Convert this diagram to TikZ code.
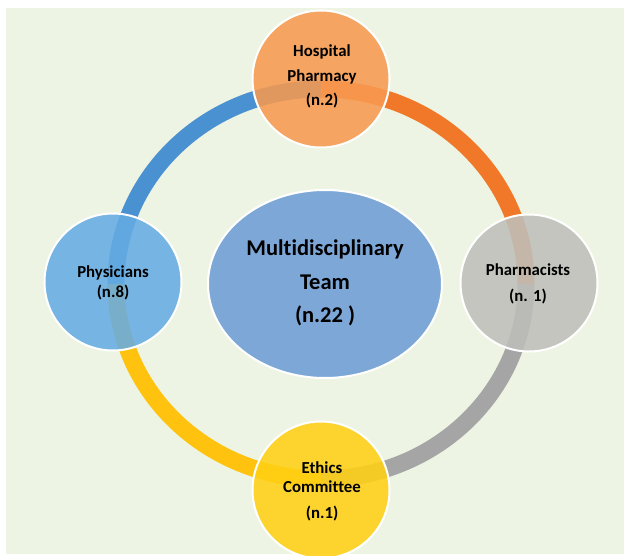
\documentclass[tikz,border=0pt]{standalone}
\usepackage{fontspec}
\setmainfont{Carlito}[Ligatures=NoCommon]
\usetikzlibrary{shapes.geometric}
\definecolor{bgc}{HTML}{EEF4E3}
\definecolor{ringblue}{HTML}{4A91D2}
\definecolor{ringorange}{HTML}{F07828}
\definecolor{ringgray}{HTML}{A5A5A5}
\definecolor{ringyellow}{HTML}{FFC20E}
\definecolor{cirorange}{HTML}{F79A50}
\definecolor{cirgray}{HTML}{BEBFBA}
\definecolor{cirblue}{HTML}{66ACE3}
\definecolor{ciryellow}{HTML}{FFD014}
\definecolor{ellblue}{HTML}{7DA7D7}
\tikzset{
  ringarc/.style={line width=17pt, line cap=butt},
  member/.style={circle, draw=white, line width=2pt, minimum size=137pt, inner sep=0pt, fill opacity=0.88},
  lbl/.style={align=center, font=\bfseries\fontsize{16.8}{25}\selectfont, text=black},
}
\begin{document}
\begin{tikzpicture}[x=1pt,y=1pt]
\useasboundingbox (0,0) rectangle (624,555);
\clip (0,0) rectangle (624,555);
\fill[white] (0,0) rectangle (624,555);
\fill[bgc] (6,1) rectangle (624,547);
\coordinate (ringc) at (321,271);
% ring segments
\draw[ringarc, ringblue] (ringc) ++(180:205 and 195) arc[start angle=180, end angle=90, x radius=205, y radius=195];
\draw[ringarc, ringorange] (ringc) ++(90:205 and 195) arc[start angle=90, end angle=0, x radius=205, y radius=195];
\draw[ringarc, ringgray] (ringc) ++(0:205 and 195) arc[start angle=0, end angle=-90, x radius=205, y radius=195];
\draw[ringarc, ringyellow] (ringc) ++(270:205 and 195) arc[start angle=270, end angle=180, x radius=205, y radius=195];
% member circles
\node[member, fill=cirorange] (hosp) at (321,476) {};
\node[member, fill=cirgray] (pharm) at (529,272) {};
\node[member, fill=cirblue] (phys) at (113,273) {};
\node[member, fill=ciryellow] (ethic) at (321,65) {};
% centre ellipse
\node[ellipse, draw=white, line width=2pt, fill=ellblue, minimum width=234pt, minimum height=188pt, inner sep=0pt] (team) at (325,271) {};
% labels
\node[lbl] (hospt) at (322,479) {Hospital\\Pharmacy\\[-1pt](n.2)};
\node[lbl, font=\bfseries\fontsize{16.8}{26}\selectfont] (pharmt) at (528,271) {Pharmacists\\(n. 1)};
\node[lbl, font=\bfseries\fontsize{16.8}{20}\selectfont] (physt) at (113,272) {Physicians\\(n.8)};
\node[lbl, font=\bfseries\fontsize{16.8}{19.5}\selectfont] (ethict) at (322,64) {Ethics\\Committee\\[6pt](n.1)};
\node[lbl, font=\bfseries\fontsize{22.5}{33.5}\selectfont] (teamt) at (325,272) {Multidisciplinary\\Team\\(n.22 )};
\end{tikzpicture}
\end{document}
